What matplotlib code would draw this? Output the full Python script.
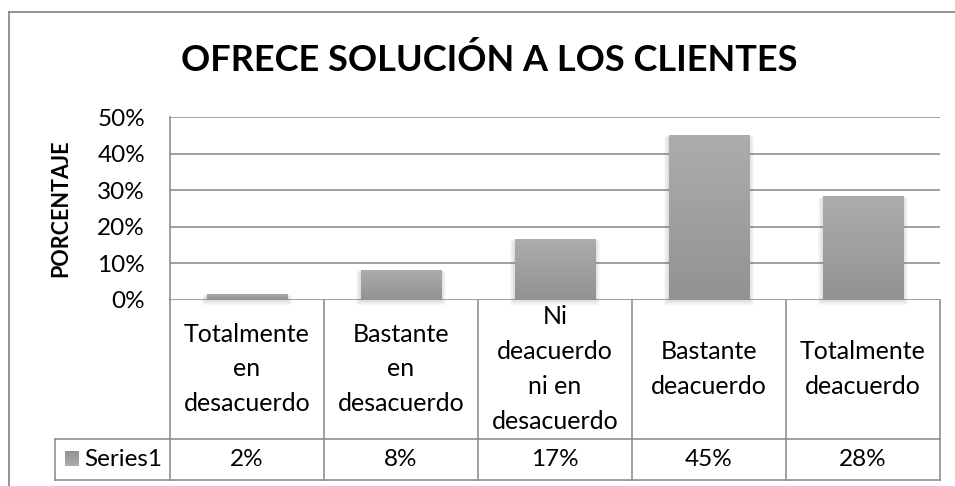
import numpy as np
import matplotlib.pyplot as plt
from matplotlib.colors import LinearSegmentedColormap
from matplotlib.lines import Line2D
from matplotlib.patches import Rectangle

# data
categories = ["Totalmente\nen\ndesacuerdo", "Bastante\nen\ndesacuerdo",
              "Ni\ndeacuerdo\nni en\ndesacuerdo", "Bastante\ndeacuerdo",
              "Totalmente\ndeacuerdo"]
values = [1.67, 8.33, 16.67, 45.0, 28.33]
value_labels = ["2%", "8%", "17%", "45%", "28%"]
series_name = "Series1"
yticks = [0, 10, 20, 30, 40, 50]
title = "OFRECE SOLUCIÓN A LOS CLIENTES"

plt.rcParams['font.family'] = ['Lato', 'DejaVu Sans']

W, H = 955, 486
fig = plt.figure(figsize=(9.55, 4.86), dpi=100)


def fx(v):
    return v / W


def fy(v):
    return 1 - v / H


line_col = '#868686'
txt_size = 17.5

# outer chart border (top and left visible)
fig.add_artist(Line2D([fx(9), fx(955)], [fy(12), fy(12)], color='#8a8a8a', lw=1.3))
fig.add_artist(Line2D([fx(9), fx(9)], [fy(12), fy(486)], color='#8a8a8a', lw=1.3))

# plot area
ax = fig.add_axes([fx(170), fy(300), fx(940) - fx(170), fy(117) - fy(300)])
x = np.arange(len(values))
bars = ax.bar(x, values, width=0.52, color='#a0a0a0', zorder=3)

# soft shadow + gradient fill
cmap = LinearSegmentedColormap.from_list('g', ['#929292', '#adadad'])
grad = np.linspace(0, 1, 256).reshape(-1, 1)
px_x = 1 / 154
px_y = 50 / 183
for b in bars:
    for k in range(1, 6):
        ax.add_patch(Rectangle((b.get_x() - k * px_x, -k * px_y),
                               b.get_width() + 2 * k * px_x,
                               b.get_height() + k * px_y * 0.6,
                               color='#555555', alpha=0.04, lw=0, zorder=2,
                               clip_on=False))
    im = ax.imshow(grad, cmap=cmap, origin='lower', aspect='auto', zorder=4,
                   extent=[b.get_x(), b.get_x() + b.get_width(), 0, b.get_height()])
    im.set_clip_path(b)

ax.set_xlim(-0.5, len(values) - 0.5)
ax.set_ylim(0, 50)
ax.set_yticks(yticks)
ax.set_yticklabels([f"{t}%" for t in yticks])
ax.set_xticks([])
ax.tick_params(axis='y', length=0, pad=18, labelsize=txt_size)
ax.yaxis.grid(True, color=line_col, lw=1.1, zorder=1)
ax.set_axisbelow(True)
for s in ['top', 'right', 'bottom']:
    ax.spines[s].set_visible(False)
ax.spines['left'].set_color(line_col)
ax.spines['left'].set_linewidth(1.1)

fig.text(fx(61), fy(208), 'PORCENTAJE', rotation=90, fontweight='bold',
         ha='center', va='center', fontsize=15.5)
fig.text(fx(489), fy(60), title, ha='center', va='center',
         fontsize=26, fontweight='bold')

# data table below the plot
tax = fig.add_axes([fx(55), fy(480), fx(940) - fx(55), fy(300) - fy(480)])
x0 = -0.5 - 115 / 154
tax.set_xlim(x0, len(values) - 0.5)
tax.set_ylim(180, 0)
tax.axis('off')
for b in np.arange(len(values) + 1) - 0.5:
    tax.plot([b, b], [0, 180], color=line_col, lw=1.1, clip_on=False)
for yy in [139, 180]:
    tax.plot([x0, len(values) - 0.5], [yy, yy], color=line_col, lw=1.1, clip_on=False)
tax.plot([x0, x0], [139, 180], color=line_col, lw=1.1, clip_on=False)

for i, (c, v) in enumerate(zip(categories, value_labels)):
    tax.text(i, 69, c, ha='center', va='center', fontsize=18, linespacing=1.62)
    tax.text(i, 160, v, ha='center', va='center', fontsize=txt_size)

key = Rectangle(((65 - 170) / 154 - 0.5, 151), 14 / 154, 15,
                facecolor='none', edgecolor='none', clip_on=False)
tax.add_patch(key)
kim = tax.imshow(grad, cmap=cmap, origin='upper', aspect='auto',
                 extent=[key.get_x(), key.get_x() + key.get_width(), 166, 151])
kim.set_clip_path(key)
tax.set_xlim(x0, len(values) - 0.5)
tax.set_ylim(180, 0)
tax.text((84 - 170) / 154 - 0.5, 160, series_name, ha='left', va='center',
         fontsize=txt_size)

fig.savefig('out.png', dpi=100)
